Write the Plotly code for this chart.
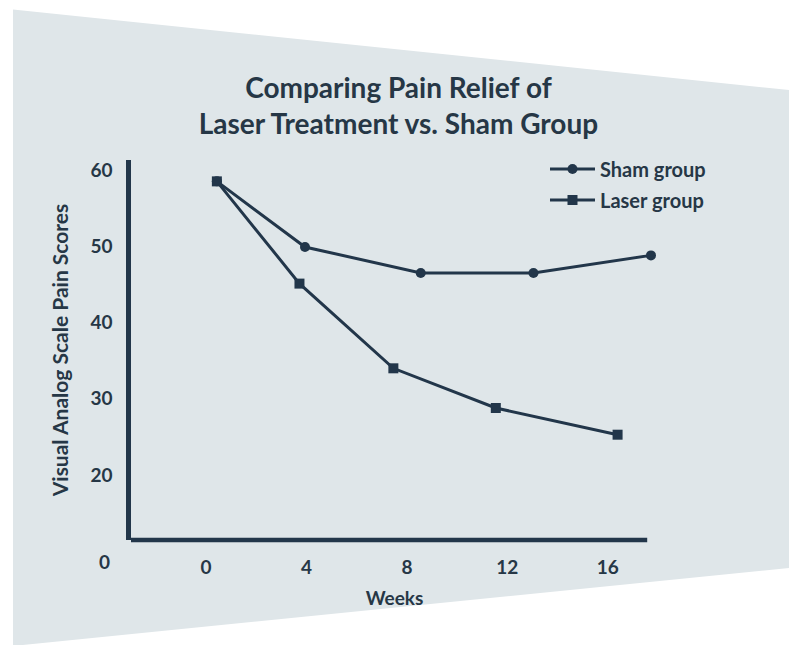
import plotly.graph_objects as go

# ---- data ----
sham_weeks = [0.43, 3.94, 8.55, 13.04, 17.72]
sham_scores = [58.5, 49.9, 46.5, 46.5, 48.8]
laser_weeks = [0.43, 3.72, 7.46, 11.54, 16.39]
laser_scores = [58.5, 45.1, 34.0, 28.8, 25.3]

x_ticks = [0, 4, 8, 12, 16]
y_ticks = [20, 30, 40, 50, 60]

title_text = "Comparing Pain Relief of<br>Laser Treatment vs. Sham Group"
x_title = "Weeks"
y_title = "Visual Analog Scale Pain Scores"

INK = "#22364a"
TXT = "#263746"
BG = "#dfe6e9"
FONT = "Lato"

W, H = 789, 645
L, R, T, B = 131, 658, 160, 540  # plot area in pixels
X_RANGE = [-2.99, 18.0]
Y_RANGE = [11.5, 61.3]
X_AXIS_END = 17.57  # where the drawn x axis line stops


def px(x):
    return (x - L) / (R - L)


def py(y):
    return (B - y) / (B - T)


fig = go.Figure()
fig.add_trace(go.Scatter(
    x=sham_weeks, y=sham_scores, name="Sham group", mode="lines+markers",
    line=dict(color=INK, width=3), marker=dict(symbol="circle", size=10, color=INK),
    cliponaxis=False, legend="legend",
))
fig.add_trace(go.Scatter(
    x=laser_weeks, y=laser_scores, name="Laser group", mode="lines+markers",
    line=dict(color=INK, width=3), marker=dict(symbol="square", size=10, color=INK),
    cliponaxis=False, legend="legend2",
))

poly = [(13, 9.5), (789, 90), (789, 568), (13, 646)]
path = "M " + " L ".join(f"{px(a):.4f},{py(b):.4f}" for a, b in poly) + " Z"
fig.add_shape(type="path", path=path, xref="paper", yref="paper",
              fillcolor=BG, line=dict(width=0), layer="below")

# x axis line (stops short of the last sham point, as in the reference)
fig.add_shape(type="line", xref="x", yref="paper", x0=X_RANGE[0] - 0.09, x1=X_AXIS_END,
              y0=0, y1=0, line=dict(color=INK, width=4.5), layer="above")

fig.add_annotation(text="0", xref="paper", yref="paper", x=px(112), y=py(561),
                   xanchor="right", yanchor="middle", showarrow=False,
                   font=dict(family=FONT, size=19, color=TXT, weight="bold"))

legend_common = dict(
    xanchor="left", yanchor="middle", bgcolor="rgba(0,0,0,0)",
    font=dict(family=FONT, size=20, color=TXT, weight="bold"),
    itemwidth=45,
)

fig.update_layout(
    width=W, height=H, showlegend=True,
    margin=dict(l=L, r=W - R, t=T, b=H - B, pad=0),
    paper_bgcolor="white", plot_bgcolor="rgba(0,0,0,0)",
    title=dict(text=title_text, x=0.505, xref="container", xanchor="center",
               y=1 - 98 / H, yref="container", yanchor="middle",
               font=dict(family=FONT, size=28, color=TXT, weight="bold")),
    legend=dict(x=px(545), y=py(169), **legend_common),
    legend2=dict(x=px(545), y=py(200), **legend_common),
    xaxis=dict(
        range=X_RANGE, tickvals=x_ticks, ticktext=[str(v) for v in x_ticks],
        showgrid=False, zeroline=False, showline=False,
        ticks="outside", ticklen=10, tickcolor="rgba(0,0,0,0)",
        tickfont=dict(family=FONT, size=19, color=TXT, weight="bold"),
        title=dict(text=x_title, standoff=14,
                   font=dict(family=FONT, size=19, color=TXT, weight="bold")),
    ),
    yaxis=dict(
        range=Y_RANGE, tickvals=y_ticks, ticktext=[str(v) for v in y_ticks],
        showgrid=False, zeroline=False, showline=True, linecolor=INK, linewidth=4.5,
        ticks="outside", ticklen=10, tickcolor="rgba(0,0,0,0)",
        tickfont=dict(family=FONT, size=19, color=TXT, weight="bold"),
        title=dict(text=y_title, standoff=18,
                   font=dict(family=FONT, size=21, color=TXT, weight="bold")),
    ),
)

fig.write_html("out.html", config={"displayModeBar": False},
               post_script="document.body.style.margin='0';")
